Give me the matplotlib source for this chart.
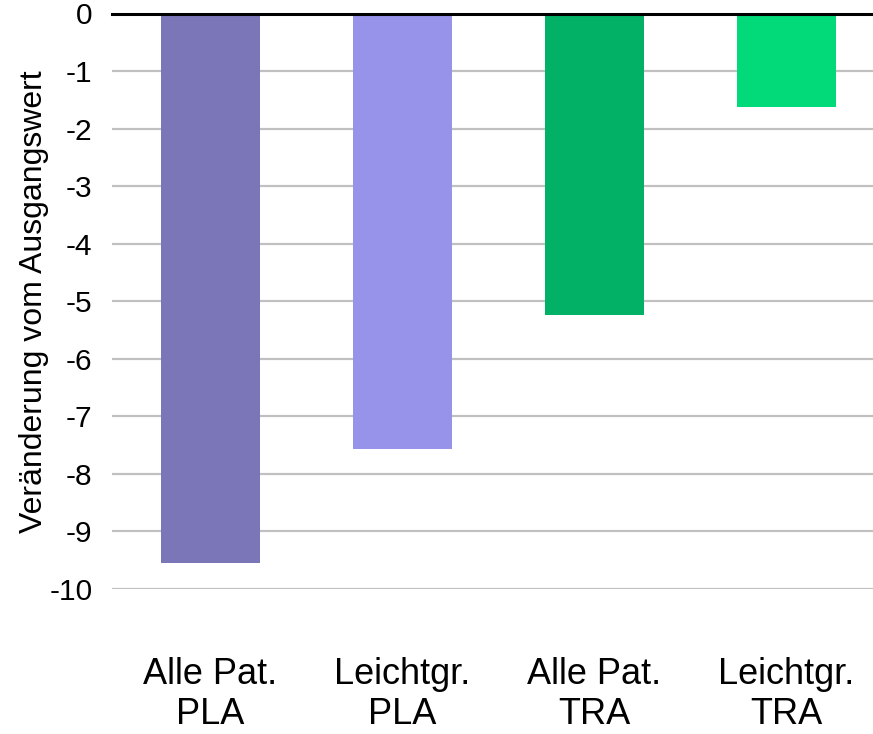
import matplotlib

matplotlib.use("Agg")
import matplotlib.pyplot as plt

plt.rcParams["font.family"] = ["Liberation Sans", "DejaVu Sans"]

# Change from baseline per group
CATEGORIES = ["Alle Pat.\nPLA", "Leichtgr.\nPLA", "Alle Pat.\nTRA", "Leichtgr.\nTRA"]
VALUES = [-9.55, -7.57, -5.24, -1.62]
COLORS = ["#7B76B8", "#9893EA", "#02B066", "#02D978"]
Y_TICKS = list(range(0, -11, -1))

fig = plt.figure(figsize=(8.73, 7.34), dpi=100)
ax = fig.add_axes([112 / 873, 1 - 589 / 734, 1 - 112 / 873, (589 - 13.5) / 734])

x = range(len(CATEGORIES))
ax.bar(x, VALUES, width=0.513, color=COLORS, zorder=3)

ax.set_ylim(-10, 0)
ax.set_xlim(-0.513, 3.45)
ax.set_yticks(Y_TICKS)
ax.set_yticklabels([str(t) for t in Y_TICKS], fontsize=21.5)
ax.set_xticks(list(x))
ax.set_xticklabels(CATEGORIES, fontsize=26, linespacing=1.17)
ax.tick_params(axis="both", length=0)
ax.tick_params(axis="y", pad=14)
ax.tick_params(axis="x", pad=49)

ax.grid(axis="y", color="#C0C0C0", linewidth=1.6, zorder=0)
ax.axhline(0, color="black", linewidth=2.2, zorder=4, clip_on=False)
for side in ["left", "right", "bottom", "top"]:
    ax.spines[side].set_visible(False)

ax.set_ylabel("Veränderung vom Ausgangswert", fontsize=23, labelpad=0)

fig.savefig("out.png", dpi=100)
